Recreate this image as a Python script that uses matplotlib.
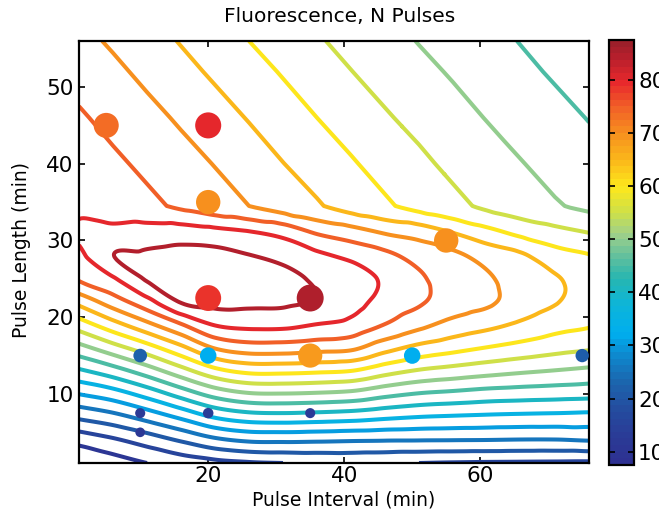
import numpy as np
import matplotlib
matplotlib.use("Agg")
import matplotlib.pyplot as plt
import matplotlib.tri as mtri
from matplotlib.colors import LinearSegmentedColormap, Normalize
import matplotlib.cm as cm

plt.rcParams['font.family'] = ['DejaVu Sans']

# ---------------- data ----------------
# fitted surface on a grid (Pulse Interval x Pulse Length)
grid_interval = [1, 6, 11, 16, 21, 26, 31, 36, 41, 46, 51, 56, 61, 66, 71, 76]
grid_length = [1, 4, 7, 10, 13, 16, 19, 22, 25, 28, 31, 34.5, 40, 46, 52, 56]

z_len01 = [5.0, 7.5, 10.0, 12.0, 13.5, 14.5, 15.0, 15.5, 15.8, 15.5, 15.0, 14.7, 14.5, 14.4, 14.3, 14.2]
z_len04 = [11.8, 14.3, 17.3, 20.6, 24.0, 25.8, 26.0, 25.8, 25.5, 25.3, 25.2, 25.1, 25.0, 24.8, 24.8, 25.3]
z_len07 = [20.9, 23.3, 26.8, 30.9, 35.4, 37.6, 38.0, 37.6, 37.0, 35.9, 35.0, 34.5, 34.1, 33.8, 33.6, 33.3]
z_len10 = [30.1, 32.7, 36.9, 42.0, 46.9, 49.5, 49.8, 49.4, 48.6, 46.4, 44.7, 43.8, 42.9, 42.4, 42.0, 41.6]
z_len13 = [39.2, 42.8, 47.5, 53.0, 58.5, 61.2, 61.3, 60.8, 60.0, 56.9, 54.5, 53.1, 51.8, 50.7, 49.8, 48.9]
z_len16 = [48.3, 53.0, 57.9, 63.7, 70.3, 72.6, 72.6, 71.8, 71.0, 66.8, 63.6, 61.6, 59.8, 58.2, 56.7, 55.6]
z_len19 = [57.4, 63.0, 68.6, 74.5, 80.2, 81.3, 81.2, 79.8, 78.4, 74.8, 71.3, 68.3, 66.3, 64.1, 61.8, 60.5]
z_len22 = [66.5, 72.5, 78.2, 85.3, 86.3, 86.0, 85.8, 84.6, 81.8, 78.3, 75.6, 72.7, 70.8, 67.8, 65.3, 62.8]
z_len25 = [75.6, 79.4, 85.5, 87.1, 87.8, 87.4, 86.3, 84.3, 82.6, 79.2, 75.7, 72.9, 70.6, 68.0, 65.5, 63.0]
z_len28 = [78.8, 84.9, 85.7, 86.5, 86.5, 85.2, 83.6, 81.1, 78.8, 76.3, 73.2, 71.2, 68.1, 65.8, 62.0, 60.3]
z_len31 = [80.4, 81.3, 82.3, 82.6, 81.7, 80.5, 78.5, 74.6, 72.3, 69.7, 68.0, 65.0, 61.7, 58.8, 56.7, 55.0]
z_len34 = [79.4, 77.7, 76.1, 74.2, 72.1, 70.0, 67.7, 65.5, 63.0, 60.7, 58.4, 56.2, 54.1, 52.3, 50.4, 49.0]
z_len40 = [77.5, 75.9, 74.0, 71.9, 69.8, 67.5, 65.1, 62.8, 60.5, 58.2, 56.0, 53.9, 52.1, 50.2, 48.5, 46.8]
z_len46 = [75.6, 73.6, 71.5, 69.3, 67.0, 64.7, 62.3, 60.0, 57.8, 55.5, 53.6, 51.7, 49.8, 48.1, 46.5, 44.8]
z_len52 = [73.2, 71.1, 68.8, 66.5, 64.2, 61.9, 59.6, 57.3, 55.1, 53.2, 51.3, 49.5, 47.8, 46.1, 44.4, 42.8]
z_len56 = [71.5, 69.3, 67.0, 64.7, 62.3, 60.0, 57.8, 55.5, 53.6, 51.7, 49.8, 48.1, 46.5, 44.8, 43.1, 41.5]

contour_levels = [10, 15, 20, 25, 30, 35, 40, 45, 50, 55, 60, 65, 70, 75, 80, 85]

# measured points
pt_interval = [5, 20, 20, 55, 20, 35, 10, 20, 35, 50, 75, 10, 20, 35, 10]
pt_length = [45, 45, 35, 30, 22.5, 22.5, 15, 15, 15, 15, 15, 7.5, 7.5, 7.5, 5]
pt_value = [74, 80, 70, 70, 79, 85.5, 22, 32, 69, 32, 21, 12, 13, 12, 11]

cbar_ticks = [10, 20, 30, 40, 50, 60, 70, 80]
color_range = (7.5, 87.5)

# ---------------- style ----------------
cmap_nodes = [
    (7.5, "#2e3192"), (12, "#2b3a96"), (17.5, "#244c9f"), (22.5, "#1c64ad"),
    (27.5, "#0f86cc"), (32, "#00aeef"), (37.5, "#0db5d9"), (42.5, "#27b6b0"),
    (47.5, "#6cc29a"), (51, "#9fd08a"), (55, "#cde04a"), (60, "#fde81c"),
    (65, "#fbb91a"), (70, "#f7921e"), (75, "#f26227"), (80, "#e8282c"),
    (85, "#b51f2c"), (87.5, "#9d1f2a")]
vmin, vmax = color_range
cmap = LinearSegmentedColormap.from_list(
    "fluo", [((v - vmin) / (vmax - vmin), c) for v, c in cmap_nodes], N=256)
norm = Normalize(vmin=vmin, vmax=vmax)

W, H = 659, 517
fig = plt.figure(figsize=(W / 100, H / 100), dpi=100)
ax = fig.add_axes([79 / W, 1 - 463 / H, (589 - 79) / W, (463 - 41) / H])

X, Y = np.meshgrid(grid_interval, grid_length)
Z = np.array([z_len01, z_len04, z_len07, z_len10, z_len13, z_len16, z_len19,
              z_len22, z_len25, z_len28, z_len31, z_len34, z_len40, z_len46,
              z_len52, z_len56])
nx, ny = len(grid_interval), len(grid_length)
tris = []
for j in range(ny - 1):
    for i in range(nx - 1):
        k = j * nx + i
        tris.append([k, k + 1, k + nx])
        tris.append([k + 1, k + nx + 1, k + nx])
tri = mtri.Triangulation(X.ravel(), Y.ravel(), np.array(tris))
refiner = mtri.UniformTriRefiner(tri)
cub = mtri.CubicTriInterpolator(tri, Z.ravel(), kind='geom')
lin = mtri.LinearTriInterpolator(tri, Z.ravel())
tri_r, z_cub = refiner.refine_field(Z.ravel(), triinterpolator=cub, subdiv=4)
_, z_lin = refiner.refine_field(Z.ravel(), triinterpolator=lin, subdiv=4)
kink = grid_length[11]
z_r = np.where(tri_r.y >= kink, z_lin, z_cub)

ax.tricontour(tri_r, z_r, levels=contour_levels, cmap=cmap, norm=norm,
              linewidths=2.9, zorder=2)

vals = np.array(pt_value)
ax.scatter(pt_interval, pt_length, c=vals, cmap=cmap, norm=norm,
           s=4.4 * vals, edgecolors='none', zorder=3)

ax.set_xlim(1, 76)
ax.set_ylim(1, 56)
ax.set_xticks([20, 40, 60])
ax.set_yticks([10, 20, 30, 40, 50])
ax.tick_params(direction='in', length=4, width=1.2, top=True, right=True,
               labelsize=15.5)
ax.tick_params(axis='x', pad=2)
ax.tick_params(axis='y', pad=4)
for sp in ax.spines.values():
    sp.set_linewidth(1.6)

fig.text(340 / W, 1 - 16 / H, "Fluorescence, N Pulses", ha='center',
         va='center', fontsize=14.5)
fig.text(344 / W, 1 - 500 / H, "Pulse Interval (min)", ha='center',
         va='center', fontsize=13.5)
fig.text(22 / W, 1 - 250 / H, "Pulse Length (min)", ha='center',
         va='center', rotation=90, fontsize=13.5)

cax = fig.add_axes([609 / W, 1 - 465 / H, 25 / W, 425 / H])
sm = cm.ScalarMappable(norm=norm, cmap=cmap.resampled(64))
cb = fig.colorbar(sm, cax=cax, ticks=cbar_ticks)
cb.outline.set_linewidth(1.6)
cax.tick_params(direction='in', length=4, width=1.2, left=True, right=True,
                labelsize=15.5, pad=3)

fig.savefig("out.png", dpi=100)
